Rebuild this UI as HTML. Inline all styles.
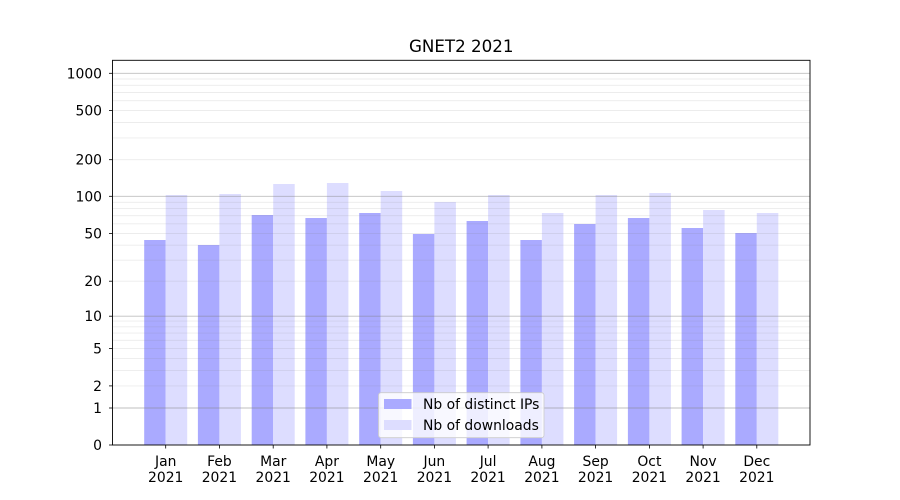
<!DOCTYPE html>
<html>
<head>
<meta charset="utf-8">
<style>
  html, body { margin: 0; padding: 0; background: #ffffff; }
  svg { display: block; }
  text { font-family: "DejaVu Sans", "Liberation Sans", sans-serif; fill: #000; }
</style>
</head>
<body>
<svg width="900" height="500" viewBox="0 0 900 500" xmlns="http://www.w3.org/2000/svg">
  <rect x="0" y="0" width="900" height="500" fill="#ffffff"/>

  <!-- Bars -->
  <g>
    <!-- dark: Nb of distinct IPs -->
    <rect x="144.2" y="240" width="21.5" height="205" fill="#aaaaff"/>
    <rect x="197.9" y="245" width="21.5" height="200" fill="#aaaaff"/>
    <rect x="251.7" y="215" width="21.5" height="230" fill="#aaaaff"/>
    <rect x="305.4" y="218" width="21.5" height="227" fill="#aaaaff"/>
    <rect x="359.2" y="213" width="21.5" height="232" fill="#aaaaff"/>
    <rect x="412.9" y="234" width="21.5" height="211" fill="#aaaaff"/>
    <rect x="466.6" y="221" width="21.5" height="224" fill="#aaaaff"/>
    <rect x="520.4" y="240" width="21.5" height="205" fill="#aaaaff"/>
    <rect x="574.1" y="224" width="21.5" height="221" fill="#aaaaff"/>
    <rect x="627.9" y="218" width="21.5" height="227" fill="#aaaaff"/>
    <rect x="681.6" y="228" width="21.5" height="217" fill="#aaaaff"/>
    <rect x="735.3" y="233" width="21.5" height="212" fill="#aaaaff"/>
    <!-- light: Nb of downloads -->
    <rect x="165.7" y="195" width="21.5" height="250" fill="#ddddff"/>
    <rect x="219.4" y="194" width="21.5" height="251" fill="#ddddff"/>
    <rect x="273.2" y="184" width="21.5" height="261" fill="#ddddff"/>
    <rect x="326.9" y="183" width="21.5" height="262" fill="#ddddff"/>
    <rect x="380.7" y="191" width="21.5" height="254" fill="#ddddff"/>
    <rect x="434.4" y="202" width="21.5" height="243" fill="#ddddff"/>
    <rect x="488.1" y="195" width="21.5" height="250" fill="#ddddff"/>
    <rect x="541.9" y="213" width="21.5" height="232" fill="#ddddff"/>
    <rect x="595.6" y="195" width="21.5" height="250" fill="#ddddff"/>
    <rect x="649.4" y="193" width="21.5" height="252" fill="#ddddff"/>
    <rect x="703.1" y="210" width="21.5" height="235" fill="#ddddff"/>
    <rect x="756.8" y="213" width="21.5" height="232" fill="#ddddff"/>
  </g>

  <!-- Minor grid -->
  <g stroke="#808080" stroke-opacity="0.15" stroke-width="0.9">
    <line x1="112.5" x2="810" y1="385.9" y2="385.9"/>
    <line x1="112.5" x2="810" y1="370.4" y2="370.4"/>
    <line x1="112.5" x2="810" y1="358.4" y2="358.4"/>
    <line x1="112.5" x2="810" y1="348.6" y2="348.6"/>
    <line x1="112.5" x2="810" y1="340.3" y2="340.3"/>
    <line x1="112.5" x2="810" y1="333.1" y2="333.1"/>
    <line x1="112.5" x2="810" y1="326.8" y2="326.8"/>
    <line x1="112.5" x2="810" y1="321.1" y2="321.1"/>
    <line x1="112.5" x2="810" y1="281.2" y2="281.2"/>
    <line x1="112.5" x2="810" y1="260.2" y2="260.2"/>
    <line x1="112.5" x2="810" y1="245.2" y2="245.2"/>
    <line x1="112.5" x2="810" y1="233.5" y2="233.5"/>
    <line x1="112.5" x2="810" y1="223.8" y2="223.8"/>
    <line x1="112.5" x2="810" y1="215.7" y2="215.7"/>
    <line x1="112.5" x2="810" y1="208.6" y2="208.6"/>
    <line x1="112.5" x2="810" y1="202.3" y2="202.3"/>
    <line x1="112.5" x2="810" y1="159.7" y2="159.7"/>
    <line x1="112.5" x2="810" y1="137.9" y2="137.9"/>
    <line x1="112.5" x2="810" y1="122.5" y2="122.5"/>
    <line x1="112.5" x2="810" y1="110.5" y2="110.5"/>
    <line x1="112.5" x2="810" y1="100.7" y2="100.7"/>
    <line x1="112.5" x2="810" y1="92.5" y2="92.5"/>
    <line x1="112.5" x2="810" y1="85.3" y2="85.3"/>
    <line x1="112.5" x2="810" y1="79.0" y2="79.0"/>
  </g>
  <!-- Major grid -->
  <g stroke="#808080" stroke-opacity="0.5" stroke-width="0.9">
    <line x1="112.5" x2="810" y1="408" y2="408"/>
    <line x1="112.5" x2="810" y1="316.2" y2="316.2"/>
    <line x1="112.5" x2="810" y1="196.3" y2="196.3"/>
    <line x1="112.5" x2="810" y1="73.3" y2="73.3"/>
  </g>

  <!-- Axes frame -->
  <rect x="112.5" y="60.3" width="697.5" height="384.7" fill="none" stroke="#000" stroke-width="0.9"/>

  <!-- Y ticks -->
  <g stroke="#000" stroke-width="0.8">
    <line x1="109" x2="112.5" y1="445" y2="445"/>
    <line x1="109" x2="112.5" y1="408" y2="408"/>
    <line x1="109" x2="112.5" y1="385.9" y2="385.9"/>
    <line x1="109" x2="112.5" y1="348.6" y2="348.6"/>
    <line x1="109" x2="112.5" y1="316.2" y2="316.2"/>
    <line x1="109" x2="112.5" y1="281.2" y2="281.2"/>
    <line x1="109" x2="112.5" y1="233.5" y2="233.5"/>
    <line x1="109" x2="112.5" y1="196.3" y2="196.3"/>
    <line x1="109" x2="112.5" y1="159.7" y2="159.7"/>
    <line x1="109" x2="112.5" y1="110.5" y2="110.5"/>
    <line x1="109" x2="112.5" y1="73.3" y2="73.3"/>
  </g>
  <g font-size="13.9" text-anchor="end">
    <text x="102" y="450">0</text>
    <text x="102" y="413">1</text>
    <text x="102" y="390.9">2</text>
    <text x="102" y="353.6">5</text>
    <text x="102" y="321.2">10</text>
    <text x="102" y="286.2">20</text>
    <text x="102" y="238.5">50</text>
    <text x="102" y="201.3">100</text>
    <text x="102" y="164.7">200</text>
    <text x="102" y="115.5">500</text>
    <text x="102" y="78.3">1000</text>
  </g>

  <!-- X ticks -->
  <g stroke="#000" stroke-width="0.8">
    <line x1="165.7" x2="165.7" y1="445" y2="448.5"/>
    <line x1="219.4" x2="219.4" y1="445" y2="448.5"/>
    <line x1="273.2" x2="273.2" y1="445" y2="448.5"/>
    <line x1="326.9" x2="326.9" y1="445" y2="448.5"/>
    <line x1="380.7" x2="380.7" y1="445" y2="448.5"/>
    <line x1="434.4" x2="434.4" y1="445" y2="448.5"/>
    <line x1="488.1" x2="488.1" y1="445" y2="448.5"/>
    <line x1="541.9" x2="541.9" y1="445" y2="448.5"/>
    <line x1="595.6" x2="595.6" y1="445" y2="448.5"/>
    <line x1="649.4" x2="649.4" y1="445" y2="448.5"/>
    <line x1="703.1" x2="703.1" y1="445" y2="448.5"/>
    <line x1="756.8" x2="756.8" y1="445" y2="448.5"/>
  </g>
  <g font-size="13.9" text-anchor="middle">
    <text x="165.7" y="466">Jan</text><text x="165.7" y="482">2021</text>
    <text x="219.4" y="466">Feb</text><text x="219.4" y="482">2021</text>
    <text x="273.2" y="466">Mar</text><text x="273.2" y="482">2021</text>
    <text x="326.9" y="466">Apr</text><text x="326.9" y="482">2021</text>
    <text x="380.7" y="466">May</text><text x="380.7" y="482">2021</text>
    <text x="434.4" y="466">Jun</text><text x="434.4" y="482">2021</text>
    <text x="488.1" y="466">Jul</text><text x="488.1" y="482">2021</text>
    <text x="541.9" y="466">Aug</text><text x="541.9" y="482">2021</text>
    <text x="595.6" y="466">Sep</text><text x="595.6" y="482">2021</text>
    <text x="649.4" y="466">Oct</text><text x="649.4" y="482">2021</text>
    <text x="703.1" y="466">Nov</text><text x="703.1" y="482">2021</text>
    <text x="756.8" y="466">Dec</text><text x="756.8" y="482">2021</text>
  </g>

  <!-- Title -->
  <text x="461.25" y="52" font-size="16.7" text-anchor="middle">GNET2 2021</text>

  <!-- Legend -->
  <rect x="378.5" y="392.7" width="165.5" height="45" rx="2.5" ry="2.5" fill="#ffffff" fill-opacity="0.8" stroke="#cccccc" stroke-width="0.8"/>
  <rect x="384" y="399" width="27.5" height="10" fill="#aaaaff"/>
  <rect x="384" y="420" width="27.5" height="10" fill="#ddddff"/>
  <g font-size="13.9">
    <text x="423" y="409">Nb of distinct IPs</text>
    <text x="423" y="430">Nb of downloads</text>
  </g>
</svg>
</body>
</html>
